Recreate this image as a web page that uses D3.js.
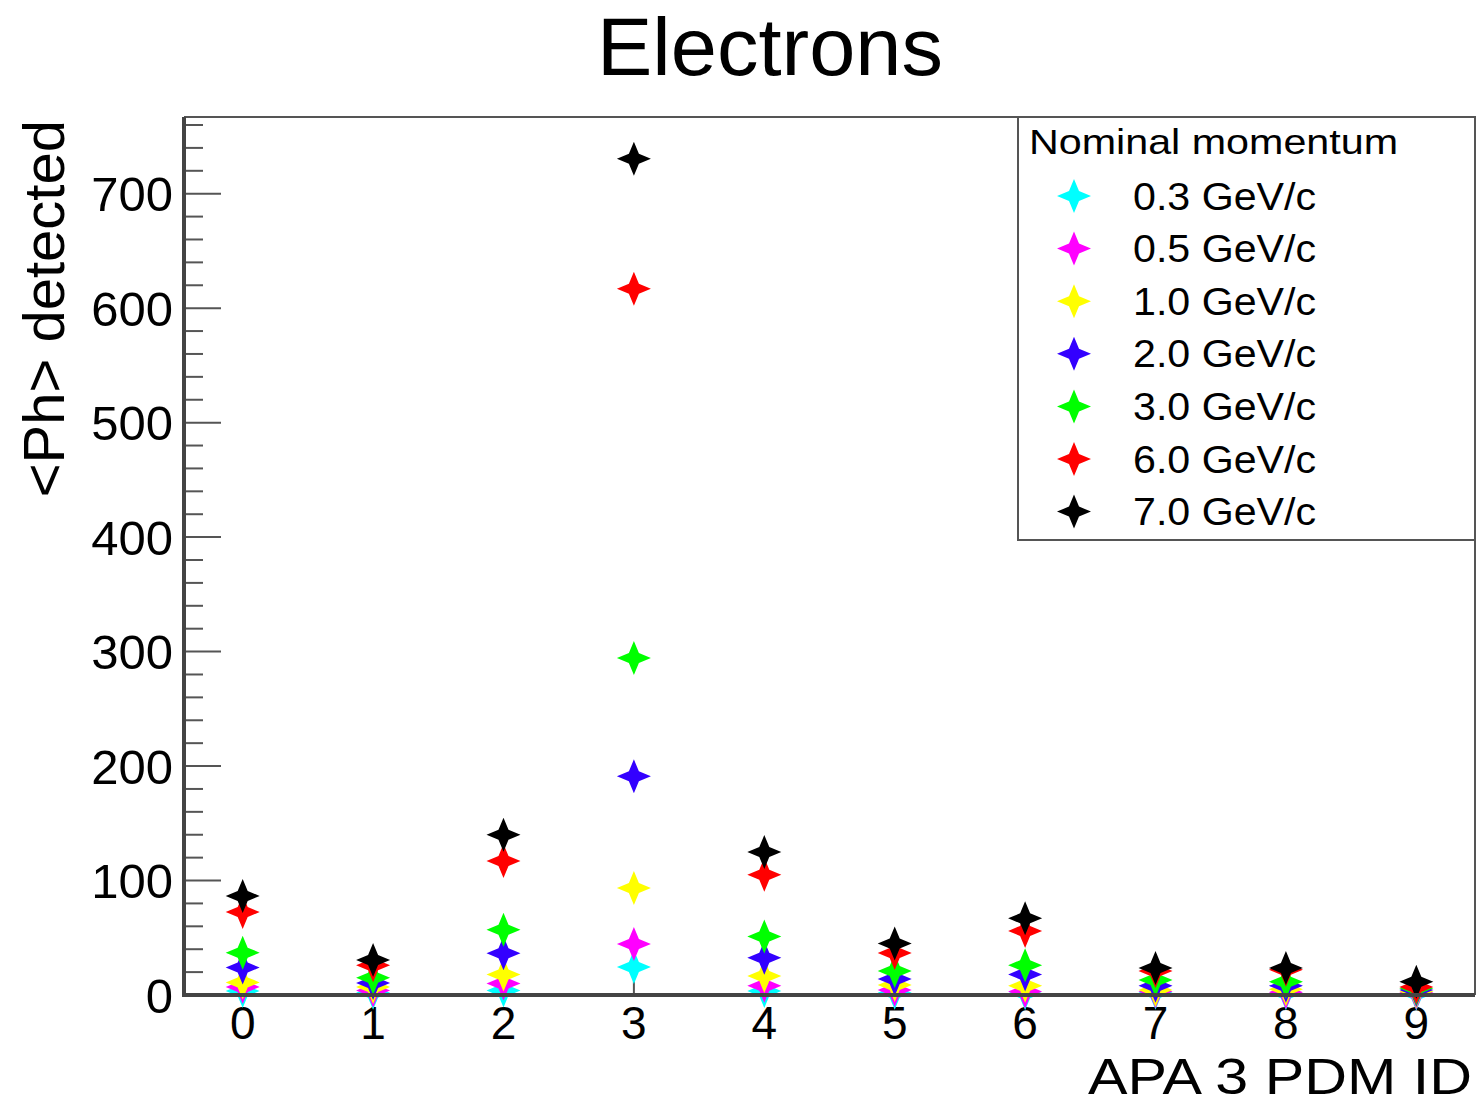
<!DOCTYPE html>
<html>
<head>
<meta charset="utf-8">
<script src="https://cdn.jsdelivr.net/npm/d3@7"></script>
<style>
  body { margin: 0; background: #fff; }
  text { font-family: "Liberation Sans", Arial, Helvetica, sans-serif; }
</style>
</head>
<body>
<script>
// PDM ids on the x axis
var pdm = [0, 1, 2, 3, 4, 5, 6, 7, 8, 9];

// momentum labels, one series each
var momenta = ["0.3 GeV/c", "0.5 GeV/c", "1.0 GeV/c", "2.0 GeV/c", "3.0 GeV/c", "6.0 GeV/c", "7.0 GeV/c"];
var colors  = ["#00ffff", "#ff00ff", "#ffff00", "#3300ff", "#00ff00", "#ff0000", "#000000"];

// <Ph> detected per PDM
var p03 = [3.5, 2, 4, 24.5, 3.5, 2, 1.5, 2, 1.5, 1];
var p05 = [7, 4, 10, 44.5, 8, 4.4, 3, 3, 2.5, 2];
var p10 = [11, 7, 18, 93.5, 16.5, 8.7, 8, 4.4, 5, 3];
var p20 = [24, 10.5, 36.5, 191, 32.5, 14, 18, 8, 8, 4.4];
var p30 = [37, 15, 57, 294.5, 51, 21, 26, 13, 11.6, 6];
var p60 = [72.5, 26, 117, 617, 105, 36.7, 56, 21, 22, 7];
var p70 = [86.5, 30.5, 140, 730.5, 125, 45, 67, 23.6, 23.6, 11.6];
var series = [p03, p05, p10, p20, p30, p60, p70];

var yTicks = [0, 100, 200, 300, 400, 500, 600, 700];

var W = 1479, H = 1105;
var margin = {left: 184, right: 4, top: 117, bottom: 110};

var svg = d3.select("body").append("svg").attr("width", W).attr("height", H);

var x = d3.scaleLinear().domain([-0.45, 9.45]).range([margin.left, W - margin.right]);
var y = d3.scaleLinear().domain([0, 767]).range([H - margin.bottom, margin.top]);

var x0 = x.range()[0], x1 = x.range()[1], y0 = y.range()[0], y1 = y.range()[1];

// frame top / right
svg.append("path")
  .attr("d", "M" + x0 + "," + y1 + "H" + x1 + "V" + y0)
  .attr("fill", "none").attr("stroke", "#555").attr("stroke-width", 2);

// y minor ticks every 20
var minor = d3.range(0, 767, 20).filter(function(v) { return v % 100 != 0; });
svg.selectAll(".ymin").data(minor).enter().append("line")
  .attr("x1", x0).attr("x2", x0 + 19)
  .attr("y1", function(d) { return y(d); }).attr("y2", function(d) { return y(d); })
  .attr("stroke", "#555").attr("stroke-width", 2);

// y major ticks + labels
svg.selectAll(".ymaj").data(yTicks).enter().append("line")
  .attr("x1", x0).attr("x2", x0 + 37)
  .attr("y1", function(d) { return y(d); }).attr("y2", function(d) { return y(d); })
  .attr("stroke", "#555").attr("stroke-width", 2);
svg.selectAll(".ylab").data(yTicks).enter().append("text")
  .attr("x", x0 - 11).attr("y", function(d) { return y(d); })
  .attr("dy", "0.36em").attr("text-anchor", "end")
  .style("font-size", "49px").text(function(d) { return d; });

// x ticks + labels
svg.selectAll(".xt").data(pdm).enter().append("line")
  .attr("x1", function(d) { return x(d); }).attr("x2", function(d) { return x(d); })
  .attr("y1", y0).attr("y2", y0 - 22)
  .attr("stroke", "#555").attr("stroke-width", 2);
svg.selectAll(".xlab").data(pdm).enter().append("text")
  .attr("x", function(d) { return x(d); }).attr("y", 1039)
  .attr("text-anchor", "middle")
  .style("font-size", "46px").text(function(d) { return d; });

// four-pointed star marker
function star(r, w) {
  return "M0," + (-r) + "L" + w + "," + (-w) + "L" + r + ",0L" + w + "," + w +
         "L0," + r + "L" + (-w) + "," + w + "L" + (-r) + ",0L" + (-w) + "," + (-w) + "Z";
}
var mk = star(17, 5);

// points, lowest momentum first so black ends on top
series.forEach(function(s, i) {
  svg.append("g").selectAll("path").data(s).enter().append("path")
    .attr("d", mk)
    .attr("transform", function(d, j) { return "translate(" + x(pdm[j]) + "," + y(d) + ")"; })
    .attr("fill", colors[i]);
});

// main axis lines on top
svg.append("path")
  .attr("d", "M" + x0 + "," + y1 + "V" + y0 + "H" + x1)
  .attr("fill", "none").attr("stroke", "#444").attr("stroke-width", 4);

// titles
svg.append("text").attr("x", 770).attr("y", 75).attr("text-anchor", "middle")
  .attr("textLength", 346).attr("lengthAdjust", "spacingAndGlyphs")
  .style("font-size", "82px").text("Electrons");
svg.append("text").attr("x", 1088).attr("y", 1094)
  .attr("textLength", 384).attr("lengthAdjust", "spacingAndGlyphs")
  .style("font-size", "50px").text("APA 3 PDM ID");
svg.append("text").attr("transform", "translate(64,120) rotate(-90)")
  .attr("text-anchor", "end")
  .style("font-size", "58px").text("<Ph> detected");

// legend
var lg = svg.append("g");
lg.append("rect").attr("x", 1018).attr("y", 117).attr("width", 457).attr("height", 423)
  .attr("fill", "#fff").attr("stroke", "#555").attr("stroke-width", 2);
lg.append("text").attr("x", 1029).attr("y", 154)
  .attr("textLength", 369).attr("lengthAdjust", "spacingAndGlyphs")
  .style("font-size", "35px").text("Nominal momentum");
momenta.forEach(function(m, i) {
  var yy = 196 + i * 52.6;
  lg.append("path").attr("d", mk).attr("fill", colors[i])
    .attr("transform", "translate(1074," + yy + ")");
  lg.append("text").attr("x", 1133).attr("y", yy).attr("dy", "0.36em")
    .attr("textLength", 183).attr("lengthAdjust", "spacingAndGlyphs")
    .style("font-size", "38px").text(m);
});
</script>
</body>
</html>
